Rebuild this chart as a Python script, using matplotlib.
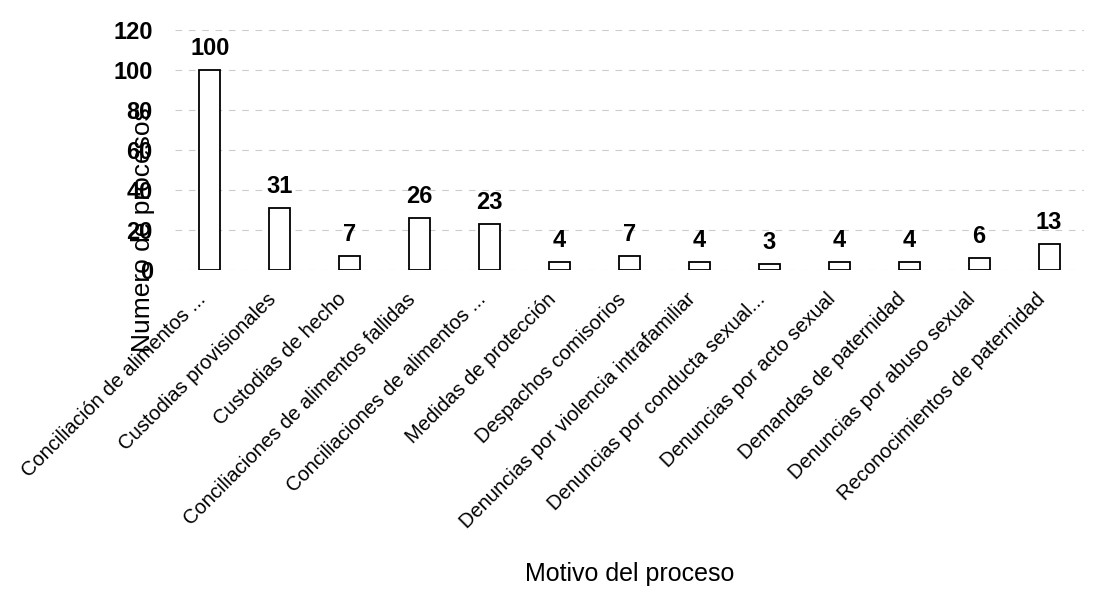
import matplotlib
matplotlib.use("Agg")
import matplotlib.pyplot as plt

plt.rcParams['font.family'] = ['Liberation Sans', 'DejaVu Sans']

categories = [
    "Conciliación de alimentos ...",
    "Custodias provisionales",
    "Custodias de hecho",
    "Conciliaciones de alimentos fallidas",
    "Conciliaciones de alimentos ...",
    "Medidas de protección",
    "Despachos comisorios",
    "Denuncias por violencia intrafamiliar",
    "Denuncias por conducta sexual...",
    "Denuncias por acto sexual",
    "Demandas de paternidad",
    "Denuncias por abuso sexual",
    "Reconocimientos de paternidad",
]
values = [100, 31, 7, 26, 23, 4, 7, 4, 3, 4, 4, 6, 13]
yticks = [0, 20, 40, 60, 80, 100, 120]

fig = plt.figure(figsize=(11.01, 6.08), dpi=100)
ax = fig.add_axes([175/1101, 1-270/608, (1084-175)/1101, 240/608])

x = list(range(len(categories)))
ax.bar(x, values, width=0.3, color='white', edgecolor='black', linewidth=1.3, zorder=3)
for xi, v in zip(x, values):
    ax.annotate(str(v), (xi, v), xytext=(0, 7), textcoords='offset points',
                ha='center', va='bottom', fontsize=17, fontweight='bold', zorder=4)

ax.set_xlim(-0.5, len(categories) - 0.5)
ax.set_ylim(0, 120)
ax.set_yticks(yticks)
ax.set_yticklabels([str(t) for t in yticks], fontsize=17, fontweight='bold')
ax.set_xticks(x)
ax.set_xticklabels(categories, rotation=45, ha='right', fontsize=14.5)
ax.tick_params(axis='x', length=0, pad=14)
ax.tick_params(axis='y', length=0, pad=16)
for s in ax.spines.values():
    s.set_visible(False)
ax.grid(axis='y', color='#cccccc', linestyle=(0, (6, 6)), linewidth=0.8, zorder=0)

ax.set_xlabel("Motivo del proceso", fontsize=18)
ax.xaxis.set_label_coords(0.5, (270-562)/240)
ax.set_ylabel("Numero de procesos", fontsize=19)
ax.yaxis.set_label_coords(-0.022, 0.17)

fig.savefig("out.png", dpi=100)
